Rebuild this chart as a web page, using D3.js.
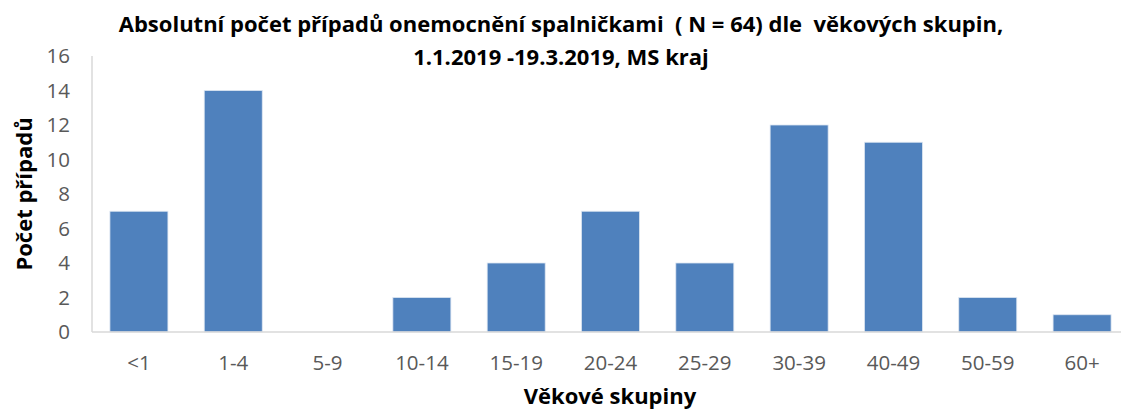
<!DOCTYPE html>
<html>
<head>
<meta charset="utf-8">
<script src="https://cdn.jsdelivr.net/npm/d3@7"></script>
<style>
body { margin: 0; background: #fff; }
text { font-family: "Open Sans", sans-serif; }
</style>
</head>
<body>
<script>
var width = 1121;
var height = 412;
var margin = {top: 56, right: -8, bottom: 80, left: 92};

var categories = ["<1", "1-4", "5-9", "10-14", "15-19", "20-24", "25-29", "30-39", "40-49", "50-59", "60+"];
var cases = [7, 14, 0, 2, 4, 7, 4, 12, 11, 2, 1];
var yTicks = [0, 2, 4, 6, 8, 10, 12, 14, 16];

var titleLines = ["Absolutní počet případů onemocnění spalničkami  ( N = 64) dle  věkových skupin,",
                  "1.1.2019 -19.3.2019, MS kraj"];

var svg = d3.select("body")
    .append("svg")
    .attr("width", width)
    .attr("height", height);

var xScale = d3.scaleBand()
    .domain(categories)
    .range([margin.left, width - margin.right])
    .paddingInner(0.385)
    .paddingOuter(0.19);

var yScale = d3.scaleLinear()
    .domain([0, 16])
    .range([height - margin.bottom, margin.top]);

// bars
svg.selectAll("rect.bar")
    .data(cases)
    .enter()
    .append("rect")
    .attr("class", "bar")
    .attr("x", function(d, i){ return xScale(categories[i]); })
    .attr("y", function(d){ return yScale(d); })
    .attr("width", xScale.bandwidth())
    .attr("height", function(d){ return yScale(0) - yScale(d); })
    .attr("fill", "#4f81bd")
    .attr("stroke", "#dde6f2")
    .attr("stroke-width", 0.8);

// axis lines
svg.append("line")
    .attr("x1", margin.left).attr("x2", margin.left)
    .attr("y1", yScale(16)).attr("y2", yScale(0))
    .attr("stroke", "#d9d9d9").attr("stroke-width", 1.5);

svg.append("line")
    .attr("x1", margin.left).attr("x2", width)
    .attr("y1", yScale(0)).attr("y2", yScale(0))
    .attr("stroke", "#d9d9d9").attr("stroke-width", 1.5);

// y tick labels
var yAxis = d3.axisLeft(yScale).tickValues(yTicks).tickSize(0).tickPadding(22);
svg.append("g")
    .attr("transform", "translate(" + margin.left + ",0)")
    .call(yAxis)
    .call(function(g){ g.select(".domain").remove(); })
    .selectAll("text")
    .attr("font-family", "Open Sans, sans-serif")
    .attr("font-size", 20.5)
    .attr("fill", "#595959");

// x tick labels
var xAxis = d3.axisBottom(xScale).tickSize(0).tickPadding(23.5);
svg.append("g")
    .attr("transform", "translate(0," + yScale(0) + ")")
    .call(xAxis)
    .call(function(g){ g.select(".domain").remove(); })
    .selectAll("text")
    .attr("font-family", "Open Sans, sans-serif")
    .attr("font-size", 20.5)
    .attr("fill", "#595959");

// title
svg.selectAll("text.title")
    .data(titleLines)
    .enter()
    .append("text")
    .attr("class", "title")
    .attr("x", 561)
    .attr("y", function(d, i){ return 32 + i * 33; })
    .attr("text-anchor", "middle")
    .attr("font-size", 22)
    .attr("font-weight", "bold")
    .attr("fill", "#000")
    .style("white-space", "pre")
    .text(function(d){ return d; });

// axis titles
svg.append("text")
    .attr("transform", "translate(32,194) rotate(-90)")
    .attr("text-anchor", "middle")
    .attr("font-size", 22)
    .attr("font-weight", "bold")
    .attr("fill", "#000")
    .text("Počet případů");

svg.append("text")
    .attr("x", 610)
    .attr("y", 404)
    .attr("text-anchor", "middle")
    .attr("font-size", 22)
    .attr("font-weight", "bold")
    .attr("fill", "#000")
    .text("Věkové skupiny");
</script>
</body>
</html>
